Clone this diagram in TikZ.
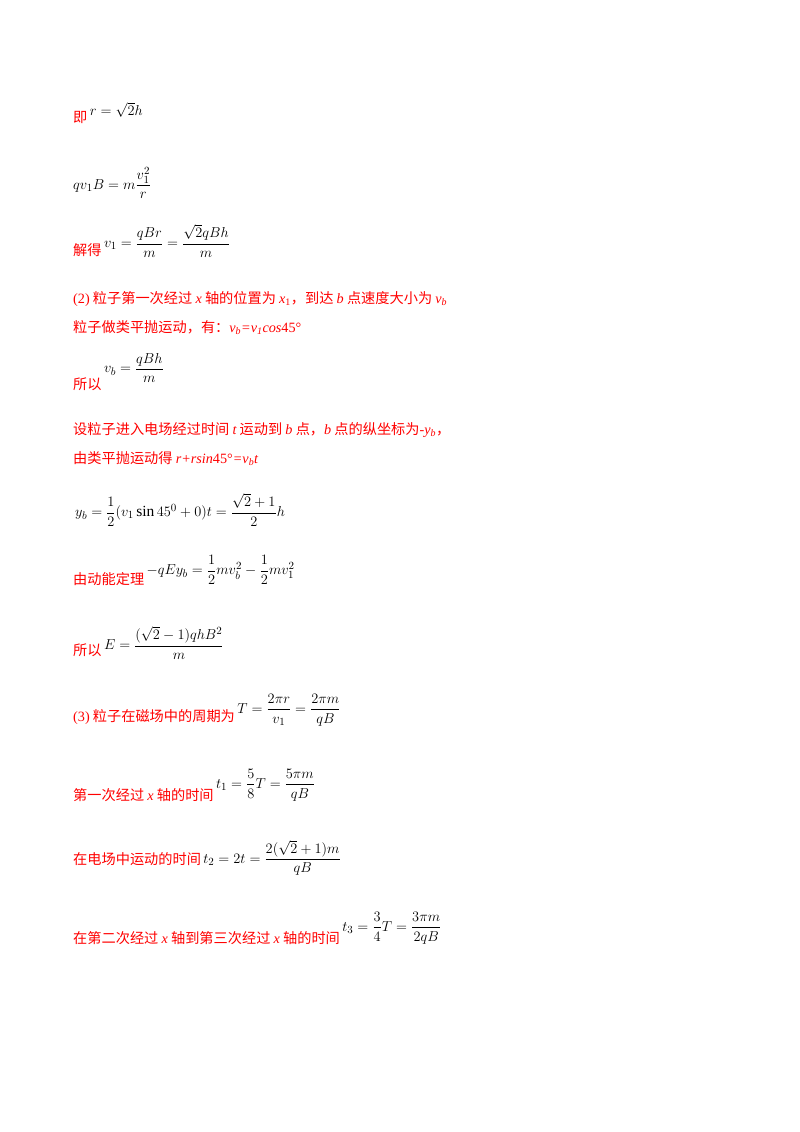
\documentclass[tikz,border=0pt]{standalone}
\usepackage{amsmath}
\usepackage{fontspec}
\setmainfont{Liberation Serif}
\newfontfamily\cjk{Noto Sans CJK SC}
\newfontfamily\ser{Liberation Serif}
\newcommand\li[1]{{\ser\itshape #1}}
\newcommand\lr[1]{{\ser #1}}
\definecolor{txtred}{RGB}{255,0,0}
\begin{document}
\begin{tikzpicture}[x=1pt,y=-1pt,
  cn/.style={anchor=base west,inner sep=0pt,text=txtred,font=\cjk\fontsize{14.2}{17}\selectfont},
  eq/.style={anchor=west,inner sep=0pt,font=\fontsize{15.5}{19}\selectfont}]
\useasboundingbox[fill=white] (0,0) rectangle (800,1132);
\node[cn] (c1) at (73,122) {即};
\node[eq] (e1) at ([xshift=2pt]c1.east |- 0,110) {$r=\sqrt{2}h$};
\node[eq] (e2) at (73,183) {$qv_1B=m\dfrac{v_1^2}{r}$};
\node[cn] (c3) at (73,255) {解得};
\node[eq] (e3) at ([xshift=2pt]c3.east |- 0,241) {$v_1=\dfrac{qBr}{m}=\dfrac{\sqrt{2}qBh}{m}$};
\node[cn] (c4) at (73,303) {\lr{(2)} 粒子第一次经过 \li{x} 轴的位置为 \li{x}\lr{\textsubscript{1}}，到达 \li{b} 点速度大小为 \li{v\textsubscript{b}}};
\node[cn] (c5) at (73,332) {粒子做类平抛运动，有：\li{v\textsubscript{b}=v\textsubscript{1}cos}\lr{45°}};
\node[cn] (c6) at (73,389) {所以};
\node[eq] (e6) at ([xshift=2pt]c6.east |- 0,368) {$v_b=\dfrac{qBh}{m}$};
\node[cn] (c7) at (73,434) {设粒子进入电场经过时间 \li{t} 运动到 \li{b} 点，\li{b} 点的纵坐标为\lr{-}\li{y\textsubscript{b}}，};
\node[cn] (c8) at (73,463) {由类平抛运动得 \li{r+rsin}\lr{45°}\li{=v\textsubscript{b}t}};
\node[eq] (e9) at (75,510) {$y_b=\dfrac{1}{2}(v_1\sin 45^0+0)t=\dfrac{\sqrt{2}+1}{2}h$};
\node[cn] (c10) at (73,584) {由动能定理};
\node[eq] (e10) at ([xshift=2pt]c10.east |- 0,570) {$-qEy_b=\dfrac{1}{2}mv_b^2-\dfrac{1}{2}mv_1^2$};
\node[cn] (c11) at (73,655) {所以};
\node[eq] (e11) at ([xshift=2pt]c11.east |- 0,643) {$E=\dfrac{(\sqrt{2}-1)qhB^2}{m}$};
\node[cn] (c12) at (73,721) {\lr{(3)} 粒子在磁场中的周期为};
\node[eq] (e12) at ([xshift=2pt]c12.east |- 0,710) {$T=\dfrac{2\pi r}{v_1}=\dfrac{2\pi m}{qB}$};
\node[cn] (c13) at (73,800) {第一次经过 \li{x} 轴的时间};
\node[eq] (e13) at ([xshift=2pt]c13.east |- 0,785) {$t_1=\dfrac{5}{8}T=\dfrac{5\pi m}{qB}$};
\node[cn] (c14) at (73,864) {在电场中运动的时间};
\node[eq] (e14) at ([xshift=2pt]c14.east |- 0,858) {$t_2=2t=\dfrac{2(\sqrt{2}+1)m}{qB}$};
\node[cn] (c15) at (73,943) {在第二次经过 \li{x} 轴到第三次经过 \li{x} 轴的时间};
\node[eq] (e15) at ([xshift=2pt]c15.east |- 0,928) {$t_3=\dfrac{3}{4}T=\dfrac{3\pi m}{2qB}$};
\end{tikzpicture}
\end{document}
